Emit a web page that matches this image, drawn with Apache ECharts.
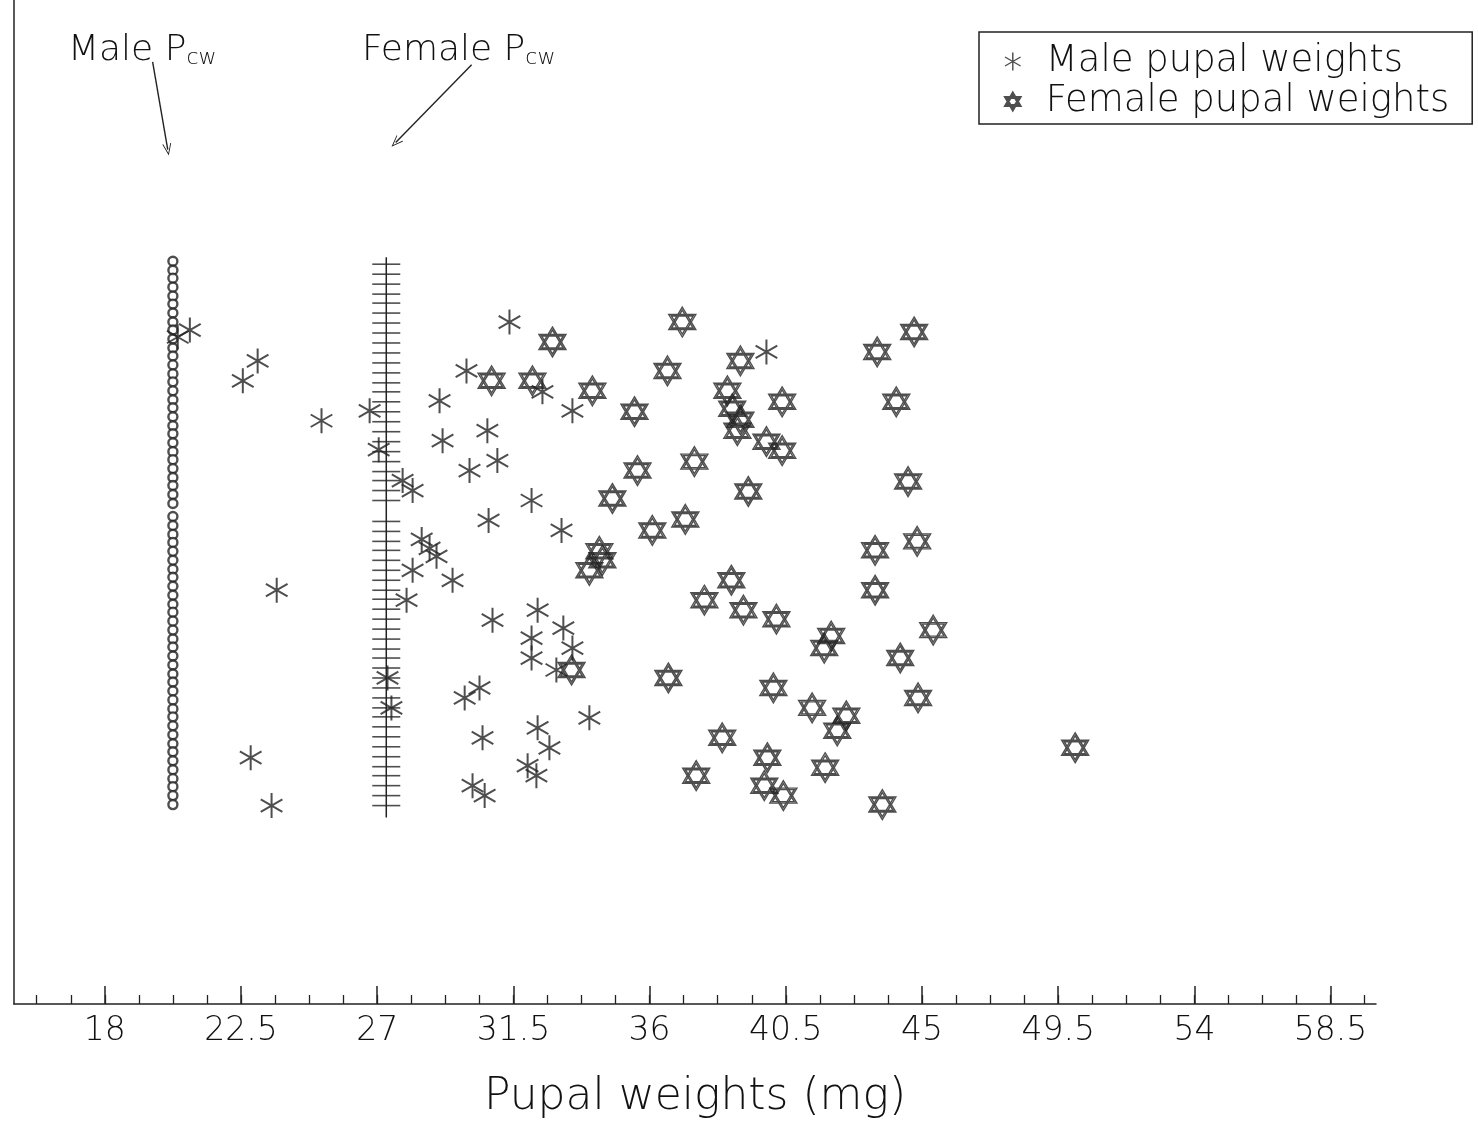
<!DOCTYPE html>
<html>
<head>
<meta charset="utf-8">
<script src="https://cdn.jsdelivr.net/npm/echarts@6/dist/echarts.min.js"></script>
<style>
html,body{margin:0;padding:0;background:#fff;}
#chart{width:1478px;height:1125px;}
</style>
</head>
<body>
<div id="chart"></div>
<script>
// ---------------- DATA ----------------
const xTickLabels = [18, 22.5, 27, 31.5, 36, 40.5, 45, 49.5, 54, 58.5];

// Male pupal weights (mg) and their vertical (index) positions
const maleWeights = [20.41, 20.81, 22.56, 23.05, 25.16, 26.75, 27.05, 27.84, 28.17, 29.06,
  29.16, 29.95, 30.05, 30.64, 30.97, 31.37, 32.46, 33.45, 32.10, 30.68,
  33.09, 39.86, 28.47, 28.73, 28.96, 29.49, 28.17, 27.97, 23.68, 22.82,
  23.51, 27.34, 27.47, 30.81, 32.30, 32.10, 33.15, 33.45, 32.10, 32.92,
  30.38, 29.89, 34.01, 30.48, 32.30, 32.69, 31.97, 32.26, 30.15, 30.55];
const maleIndex = [66.9, 67.6, 62.5, 64.5, 58.5, 59.5, 55.6, 52.5, 51.5, 60.5,
  56.5, 63.5, 53.5, 57.5, 54.5, 68.4, 61.4, 59.5, 50.5, 48.5,
  47.5, 65.4, 46.6, 45.7, 44.9, 42.5, 43.5, 40.5, 41.5, 24.7,
  19.9, 32.7, 29.7, 38.5, 39.5, 36.7, 37.7, 35.7, 34.7, 33.5,
  31.7, 30.7, 28.7, 26.7, 27.7, 25.7, 23.9, 22.9, 21.9, 20.9];

// Female pupal weights (mg) and their vertical (index) positions
const femaleWeights = [37.08, 32.79, 30.78, 32.13, 34.11, 36.59, 35.50, 39.00, 38.57, 40.38,
  38.73, 39.00, 38.90, 39.86, 40.38, 37.48, 35.60, 39.26, 34.77, 36.09,
  37.18, 34.34, 34.01, 34.44, 33.42, 36.62, 37.81, 38.70, 39.10, 40.19,
  42.00, 41.77, 40.09, 41.37, 42.50, 42.20, 38.40, 39.89, 39.79, 40.42,
  37.54, 41.80, 43.69, 50.06, 43.52, 44.74, 44.15, 44.54, 43.45, 44.84,
  43.45, 45.37, 44.28, 44.87];
const femaleIndex = [68.4, 66.4, 62.5, 62.5, 61.5, 63.5, 59.4, 64.5, 61.5, 60.4,
  59.7, 58.6, 57.5, 56.4, 55.5, 54.4, 53.5, 51.4, 50.7, 47.5,
  48.6, 45.4, 43.5, 44.5, 33.5, 32.7, 40.5, 42.5, 39.5, 38.6,
  36.9, 35.7, 31.7, 29.7, 28.9, 27.4, 26.7, 24.7, 21.9, 20.9,
  22.9, 23.7, 20.0, 25.7, 65.4, 67.4, 60.4, 52.4, 45.5, 46.4,
  41.5, 37.5, 34.7, 30.7];

// Critical weights (Pcw) columns
const malePcw = 20.25;
const malePcwIndex = [74.5, 73.6, 72.8, 71.9, 71.0, 70.2, 69.3, 68.4, 67.6, 66.7,
  65.8, 65.0, 64.1, 63.2, 62.4, 61.5, 60.6, 59.8, 58.9, 58.0,
  57.2, 56.3, 55.4, 54.6, 53.7, 52.8, 52.0, 51.1, 50.2,
  48.9, 48.0, 47.1, 46.3, 45.4, 44.5, 43.6, 42.8, 41.9, 41.0,
  40.1, 39.3, 38.4, 37.5, 36.6, 35.8, 34.9, 34.0, 33.1, 32.3,
  31.4, 30.5, 29.6, 28.8, 27.9, 27.0, 26.1, 25.3, 24.4, 23.5,
  22.6, 21.8, 20.9, 20.0];
const femalePcw = 27.3;
const femalePcwIndex = [74.2, 73.2, 72.2, 71.2, 70.3, 69.3, 68.3, 67.3, 66.3, 65.3,
  64.3, 63.3, 62.3, 61.4, 60.4, 59.4, 58.4, 57.4, 56.4, 55.4,
  54.4, 53.4, 52.5, 51.5, 50.5,
  48.4, 47.4, 46.4, 45.5, 44.5, 43.5, 42.5, 41.5, 40.6, 39.6,
  38.6, 37.6, 36.6, 35.6, 34.7, 33.7, 32.7, 31.7, 30.7, 29.7,
  28.8, 27.8, 26.8, 25.8, 24.8, 23.8, 22.9, 21.9, 20.9, 19.9];

// ---------------- STYLE HELPERS ----------------
const INK = '#222';
const TXT = '#111';
const FONT = 'DejaVu Sans';
const FW = 300;

function barPath(deg, r, w) {
  const t = deg * Math.PI / 180, c = Math.cos(t), s = Math.sin(t);
  const pts = [[r*c - w*s, r*s + w*c], [r*c + w*s, r*s - w*c],
               [-r*c + w*s, -r*s - w*c], [-r*c - w*s, -r*s + w*c]];
  return 'M' + pts.map(p => p[0].toFixed(2) + ',' + p[1].toFixed(2)).join('L') + 'Z';
}
const asteriskPath = 'path://' + [90, 30, 150].map(a => barPath(a, 100, 8)).join(' ');
const starPath = 'path://M0,-100L86.6,50L-86.6,50Z M0,100L86.6,-50L-86.6,-50Z ' +
                 'M0,-80L69.3,40L-69.3,40Z M0,80L69.3,-40L-69.3,-40Z';
const arrowHead = 'path://M5,0L10,12L9,12L5,2.5L1,12L0,12Z';

const minorTicks = [];
for (let v = 15.75; v < 60; v += 1.125) minorTicks.push(+v.toFixed(3));

const pairs = (xs, ys) => xs.map((x, i) => [x, ys[i]]);
const column = (x, ys) => ys.map(y => [x, y]);

const fMin = Math.min.apply(null, femalePcwIndex), fMax = Math.max.apply(null, femalePcwIndex);

const chart = echarts.init(document.getElementById('chart'), null, {renderer: 'canvas'});
chart.setOption({
  animation: false,
  backgroundColor: '#fff',
  grid: {left: 14, right: 102, top: 0, bottom: 118, containLabel: false},
  xAxis: [{
    type: 'value', min: 15, max: 60,
    axisLine: {show: true, lineStyle: {color: INK, width: 1.5}},
    axisTick: {show: true, inside: true, length: 18, customValues: xTickLabels,
               lineStyle: {color: INK, width: 1.5}},
    axisLabel: {show: true, customValues: xTickLabels, fontSize: 33, color: TXT,
                fontFamily: FONT, fontWeight: FW, margin: 11, formatter: v => String(v)},
    splitLine: {show: false},
    name: 'Pupal weights (mg)', nameLocation: 'middle', nameGap: 72,
    nameTextStyle: {fontSize: 44, color: TXT, fontFamily: FONT, fontWeight: FW}
  }, {
    type: 'value', min: 15, max: 60, position: 'bottom',
    axisLine: {show: false},
    axisTick: {show: true, inside: true, length: 9, customValues: minorTicks,
               lineStyle: {color: INK, width: 1.3}},
    axisLabel: {show: false},
    splitLine: {show: false}
  }],
  yAxis: {
    type: 'value', min: 0, max: 100.7,
    axisLine: {show: true, lineStyle: {color: INK, width: 1.5}},
    axisTick: {show: false}, axisLabel: {show: false}, splitLine: {show: false}
  },
  legend: {
    data: ['Male pupal weights', 'Female pupal weights'],
    orient: 'vertical', left: 979, top: 32,
    borderColor: INK, borderWidth: 1.5, borderRadius: 0,
    padding: [11, 23, 4, 25], itemGap: 3, itemWidth: 56, itemHeight: 18,
    selectedMode: false,
    textStyle: {fontSize: 37, color: TXT, fontFamily: FONT, fontWeight: FW, lineHeight: 36}
  },
  series: [{
    name: 'Male Pcw', type: 'scatter', data: column(malePcw, malePcwIndex),
    symbol: 'circle', symbolSize: 9,
    itemStyle: {color: '#fff', borderColor: INK, borderWidth: 2.4},
    markLine: {
      silent: true, symbol: ['none', arrowHead], symbolSize: [9, 12],
      label: {show: false}, lineStyle: {color: INK, width: 1.4, type: 'solid'},
      data: [[{coord: [19.58, 94.5]}, {coord: [20.08, 85.7]}]]
    }
  }, {
    name: 'Female Pcw line', type: 'line',
    data: [[femalePcw, fMin - 1.2], [femalePcw, fMax + 0.7]],
    showSymbol: false, lineStyle: {color: INK, width: 1.5},
    markLine: {
      silent: true, symbol: ['none', arrowHead], symbolSize: [9, 12],
      label: {show: false}, lineStyle: {color: INK, width: 1.4, type: 'solid'},
      data: [[{coord: [30.12, 94.2]}, {coord: [27.61, 86.4]}]]
    }
  }, {
    name: 'Female Pcw', type: 'scatter', data: column(femalePcw, femalePcwIndex),
    symbol: 'rect', symbolSize: [28, 1.6],
    itemStyle: {color: INK}
  }, {
    name: 'Male pupal weights', type: 'scatter', data: pairs(maleWeights, maleIndex),
    symbol: asteriskPath, symbolSize: 25, symbolKeepAspect: true,
    itemStyle: {color: INK}
  }, {
    name: 'Female pupal weights', type: 'scatter', data: pairs(femaleWeights, femaleIndex),
    symbol: starPath, symbolSize: [27, 30],
    itemStyle: {color: 'rgba(0,0,0,0)', borderColor: INK, borderWidth: 1.4}
  }],
  graphic: [{
    type: 'text', left: 68, top: 33,
    style: {
      text: '{a|Male P}{b|cw}', fill: TXT,
      rich: {a: {fontSize: 36, fontFamily: FONT, fontWeight: FW, fill: TXT, verticalAlign: 'bottom'},
             b: {fontSize: 22, fontFamily: FONT, fontWeight: FW, fill: TXT, verticalAlign: 'bottom'}}
    }
  }, {
    type: 'text', left: 362, top: 33,
    style: {
      text: '{a|Female P}{b|cw}', fill: TXT,
      rich: {a: {fontSize: 36, fontFamily: FONT, fontWeight: FW, fill: TXT, verticalAlign: 'bottom'},
             b: {fontSize: 22, fontFamily: FONT, fontWeight: FW, fill: TXT, verticalAlign: 'bottom'}}
    }
  }]
});
</script>
</body>
</html>
